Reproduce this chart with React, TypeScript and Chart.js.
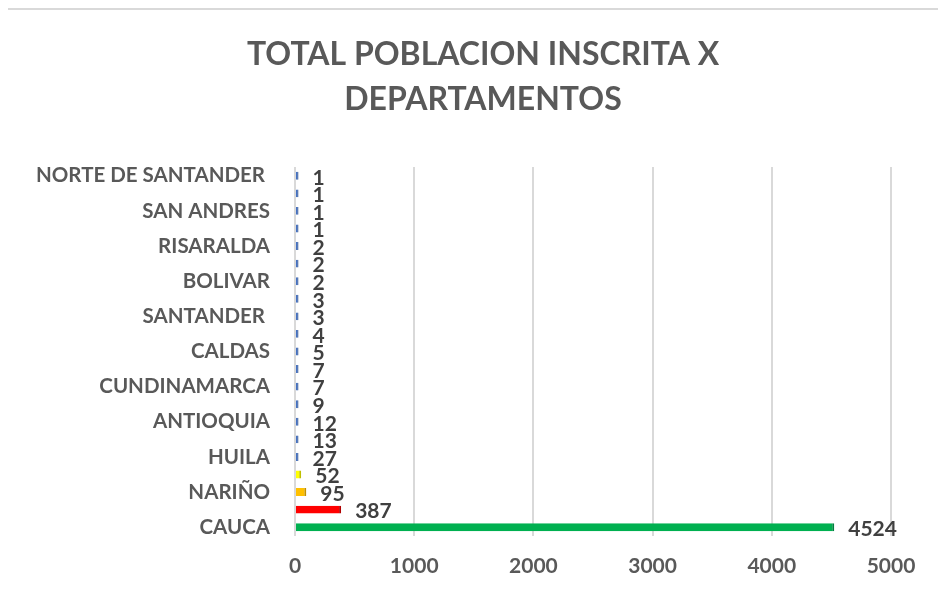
import React, { useEffect, useRef } from "react";
import { Chart, registerables } from "chart.js";

Chart.register(...registerables);

const titleLines = ["TOTAL POBLACION INSCRITA X", "DEPARTAMENTOS"];

// top to bottom
const departamentos = [
  "NORTE DE SANTANDER ",
  "AMAZONAS",
  "SAN ANDRES",
  "CHOCO",
  "RISARALDA",
  "ATLANTICO",
  "BOLIVAR",
  "CAQUETA",
  "SANTANDER ",
  "META",
  "CALDAS",
  "QUINDIO",
  "CUNDINAMARCA",
  "BOGOTA",
  "ANTIOQUIA",
  "TOLIMA",
  "HUILA",
  "PUTUMAYO",
  "NARIÑO",
  "VALLE DEL CAUCA",
  "CAUCA",
];

const inscritos = [1, 1, 1, 1, 2, 2, 2, 3, 3, 4, 5, 7, 7, 9, 12, 13, 27, 52, 95, 387, 4524];

const barColors = [
  "#4472C4", "#4472C4", "#4472C4", "#4472C4", "#4472C4", "#4472C4", "#4472C4",
  "#4472C4", "#4472C4", "#4472C4", "#4472C4", "#4472C4", "#4472C4", "#4472C4",
  "#4472C4", "#4472C4", "#4472C4", "#FFFF00", "#FFC000", "#FF0000", "#00B050",
];
const barEdges = [
  "#2F5597", "#2F5597", "#2F5597", "#2F5597", "#2F5597", "#2F5597", "#2F5597",
  "#2F5597", "#2F5597", "#2F5597", "#2F5597", "#2F5597", "#2F5597", "#2F5597",
  "#2F5597", "#2F5597", "#2F5597", "#BFBF00", "#C09000", "#B00000", "#008040",
];

const xTicks = [0, 1000, 2000, 3000, 4000, 5000];

const FONT = "Lato, 'Open Sans', sans-serif";

const valueLabels = {
  id: "valueLabels",
  afterDatasetsDraw(chart: any) {
    const ctx = chart.ctx;
    const meta = chart.getDatasetMeta(0);
    const data = chart.data.datasets[0].data;
    ctx.save();
    ctx.font = `bold 21px ${FONT}`;
    ctx.fillStyle = "#404040";
    ctx.textAlign = "left";
    ctx.textBaseline = "middle";
    meta.data.forEach((bar: any, i: number) => {
      ctx.fillText(String(data[i]), bar.x + 14, bar.y + 2);
    });
    ctx.restore();
  },
};

export default function App() {
  const ref = useRef<HTMLCanvasElement>(null);
  useEffect(() => {
    if (!ref.current) return;
    const chart = new Chart(ref.current, {
      type: "bar",
      data: {
        labels: departamentos,
        datasets: [
          {
            data: inscritos,
            backgroundColor: barColors,
            borderColor: barEdges,
            borderWidth: { right: 2, top: 0, bottom: 0, left: 0 },
            borderSkipped: false,
            minBarLength: 3.5,
            barPercentage: 0.45,
            categoryPercentage: 1,
          },
        ],
      },
      plugins: [valueLabels],
      options: {
        indexAxis: "y",
        animation: false,
        responsive: false,
        maintainAspectRatio: false,
        layout: { padding: 0 },
        plugins: {
          legend: { display: false },
          tooltip: { enabled: false },
          title: {
            display: true,
            text: titleLines,
            color: "#595959",
            font: { family: FONT, size: 32, weight: "bold", lineHeight: 1.406 },
            padding: { top: 22.5, bottom: 44.5 },
          },
        },
        scales: {
          x: {
            type: "linear",
            min: 0,
            max: 5000,
            afterBuildTicks(scale: any) {
              scale.ticks = xTicks.map((v) => ({ value: v }));
            },
            afterFit(scale: any) {
              scale.height = 74;
            },
            grid: { color: "#d9d9d9", lineWidth: 2, drawTicks: false },
            border: { display: false },
            ticks: {
              color: "#595959",
              padding: 18,
              font: { family: FONT, size: 21, weight: "bold" },
              callback(v: any) {
                return String(v);
              },
            },
          },
          y: {
            type: "category",
            offset: true,
            afterFit(scale: any) {
              scale.width = 287;
            },
            grid: { display: false, drawTicks: false },
            border: { display: false },
            ticks: {
              autoSkip: false,
              color: "#595959",
              padding: 25,
              font: { family: FONT, size: 20.5, weight: "bold" },
              callback(_v: any, index: number) {
                return index % 2 === 0 ? departamentos[index] : "";
              },
            },
          },
          yRight: {
            type: "category",
            position: "right",
            display: true,
            afterFit(scale: any) {
              scale.width = 67;
            },
            grid: { display: false, drawTicks: false },
            border: { display: false },
            ticks: { display: false },
          },
        },
      },
    });
    return () => chart.destroy();
  }, []);

  return (
    <div style={{ position: "relative", width: 940, height: 591, overflow: "hidden", marginLeft: -2 }}>
      <div
        style={{
          position: "absolute",
          left: 0,
          top: 0,
          width: 1000,
          height: 700,
          borderTop: "2px solid #d9d9d9",
          borderLeft: "2px solid #d9d9d9",
          background: "#fff",
        }}
      >
        <canvas ref={ref} width={950} height={600} style={{ display: "block" }} />
      </div>
    </div>
  );
}
